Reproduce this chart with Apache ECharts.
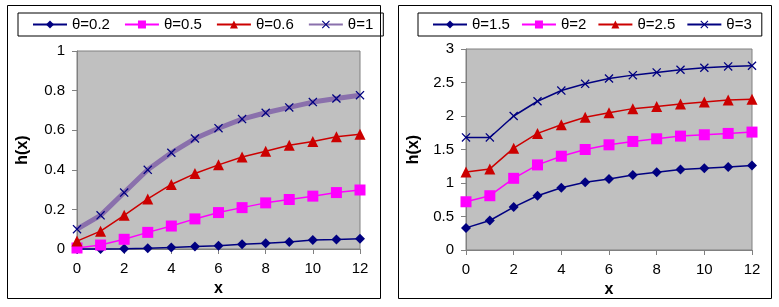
<!DOCTYPE html>
<html>
<head>
<meta charset="utf-8">
<script src="https://cdn.jsdelivr.net/npm/echarts@6/dist/echarts.min.js"></script>
<style>
  html, body { margin: 0; padding: 0; background: #fff; }
  #main { width: 779px; height: 307px; }
</style>
</head>
<body>
<div id="main"></div>
<script>
// x values shared by both panels
var xs = [0, 1, 2, 3, 4, 5, 6, 7, 8, 9, 10, 11, 12];

// left panel
var leftNames = ['θ=0.2', 'θ=0.5', 'θ=0.6', 'θ=1'];
var theta02 = [0, 0, 0.001, 0.004, 0.008, 0.012, 0.017, 0.024, 0.029, 0.035, 0.045, 0.048, 0.052];
var theta05 = [0.005, 0.02, 0.049, 0.084, 0.116, 0.152, 0.184, 0.209, 0.233, 0.25, 0.267, 0.285, 0.298];
var theta06 = [0.04, 0.09, 0.17, 0.253, 0.326, 0.381, 0.425, 0.465, 0.494, 0.524, 0.543, 0.567, 0.579];
var theta1 = [0.1, 0.17, 0.285, 0.4, 0.486, 0.558, 0.61, 0.656, 0.688, 0.715, 0.742, 0.76, 0.777];

// right panel
var rightNames = ['θ=1.5', 'θ=2', 'θ=2.5', 'θ=3'];
var theta15 = [0.33, 0.44, 0.64, 0.81, 0.93, 1.01, 1.06, 1.12, 1.16, 1.2, 1.22, 1.24, 1.26];
var theta2 = [0.72, 0.81, 1.07, 1.27, 1.4, 1.5, 1.57, 1.62, 1.66, 1.7, 1.72, 1.74, 1.76];
var theta25 = [1.164, 1.21, 1.52, 1.74, 1.87, 1.98, 2.05, 2.11, 2.14, 2.18, 2.21, 2.24, 2.25];
var theta3 = [1.68, 1.68, 2.0, 2.22, 2.38, 2.48, 2.56, 2.61, 2.65, 2.69, 2.72, 2.74, 2.75];

var font = 'Liberation Sans';
var crossIcon = 'path://M0,1 L1,0 L5,4 L9,0 L10,1 L6,5 L10,9 L9,10 L5,6 L1,10 L0,9 L4,5 Z';

function pairs(ys) {
    return xs.map(function (x, i) { return [x, ys[i]]; });
}

function makeSeries(name, ys, idx, symbol, size, lineColor, markColor, width) {
    return {
        name: name,
        type: 'line',
        xAxisIndex: idx,
        yAxisIndex: idx,
        data: pairs(ys),
        symbol: symbol,
        symbolSize: size,
        showAllSymbol: true,
        clip: false,
        lineStyle: { color: lineColor, width: width },
        itemStyle: { color: markColor },
        emphasis: { disabled: true }
    };
}

function xAxisFor(idx) {
    return {
        type: 'value', gridIndex: idx, min: 0, max: 12, interval: 2,
        name: 'x', nameLocation: 'middle', nameGap: 31,
        nameTextStyle: { fontFamily: font, fontSize: 16, fontWeight: 'bold', color: '#000' },
        axisLine: { show: true, lineStyle: { color: '#808080' } },
        axisTick: { show: true, length: 5, lineStyle: { color: '#808080' } },
        axisLabel: { fontFamily: font, fontSize: 15, color: '#000', margin: 12 },
        splitLine: { show: false }
    };
}

function yAxisFor(idx, max, step, gap) {
    return {
        type: 'value', gridIndex: idx, min: 0, max: max, interval: step,
        name: 'h(x)', nameLocation: 'middle', nameGap: gap, nameRotate: 90,
        nameTextStyle: { fontFamily: font, fontSize: 16, fontWeight: 'bold', color: '#000' },
        axisLine: { show: true, lineStyle: { color: '#808080' } },
        axisTick: { show: true, length: 5, lineStyle: { color: '#808080' } },
        axisLabel: { fontFamily: font, fontSize: 15, color: '#000', margin: 12 },
        splitLine: { show: false }
    };
}

function legendAt(left, names, gap) {
    return {
        left: left, top: 13,
        data: names,
        borderColor: '#000', borderWidth: 1,
        padding: [4, 10, 4, 14],
        itemWidth: 34, itemHeight: 10, itemGap: gap,
        textStyle: { fontFamily: font, fontSize: 15, color: '#000' },
        selectedMode: false
    };
}

var chart = echarts.init(document.getElementById('main'));

var option = {
    animation: false,
    backgroundColor: '#fff',
    graphic: [
        { type: 'rect', shape: { x: 7.5, y: 5.5, width: 373, height: 293 },
          style: { fill: 'none', stroke: '#000', lineWidth: 1 }, z: -1 },
        { type: 'rect', shape: { x: 398.5, y: 5.5, width: 373, height: 293 },
          style: { fill: 'none', stroke: '#000', lineWidth: 1 }, z: -1 }
    ],
    legend: [legendAt(18, leftNames, 14), legendAt(418, rightNames, 11)],
    grid: [
        { left: 77, top: 51, width: 283, height: 198, show: true,
          backgroundColor: '#C0C0C0', borderColor: '#808080', borderWidth: 1 },
        { left: 466, top: 49, width: 286, height: 201, show: true,
          backgroundColor: '#C0C0C0', borderColor: '#808080', borderWidth: 1 }
    ],
    xAxis: [xAxisFor(0), xAxisFor(1)],
    yAxis: [yAxisFor(0, 1, 0.2, 46), yAxisFor(1, 3, 0.5, 44)],
    series: [
        makeSeries(leftNames[0], theta02, 0, 'diamond', 10, '#000080', '#000080', 1.5),
        makeSeries(leftNames[1], theta05, 0, 'rect', 11, '#FF00FF', '#FF00FF', 1.5),
        makeSeries(leftNames[2], theta06, 0, 'triangle', 11, '#CC0000', '#CC0000', 1.5),
        makeSeries(leftNames[3], theta1, 0, crossIcon, 9, '#8A70AC', '#000080', 5),
        makeSeries(rightNames[0], theta15, 1, 'diamond', 10, '#000080', '#000080', 1.5),
        makeSeries(rightNames[1], theta2, 1, 'rect', 11, '#FF00FF', '#FF00FF', 1.5),
        makeSeries(rightNames[2], theta25, 1, 'triangle', 11, '#CC0000', '#CC0000', 1.5),
        makeSeries(rightNames[3], theta3, 1, crossIcon, 9, '#000080', '#000080', 1.5)
    ]
};

chart.setOption(option);
</script>
</body>
</html>
